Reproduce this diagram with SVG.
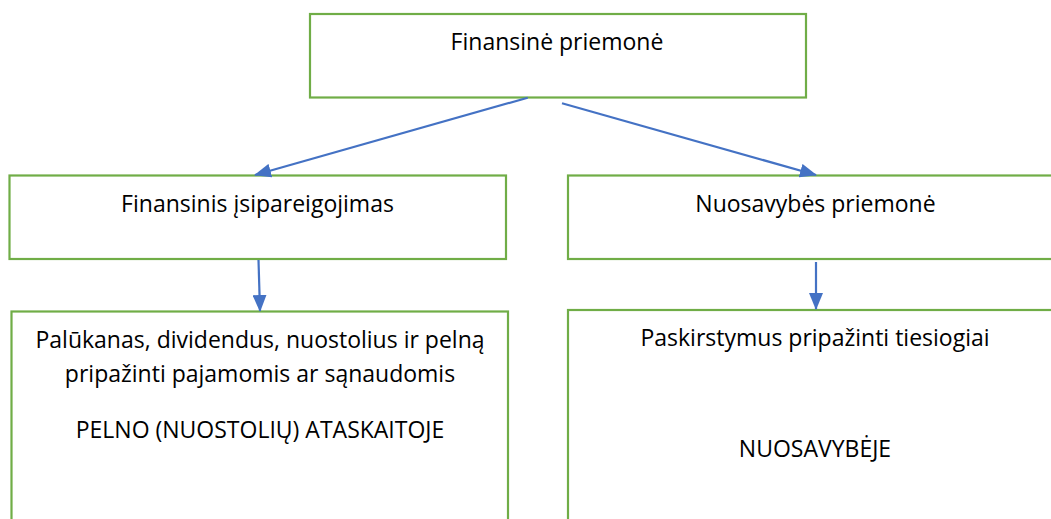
<svg xmlns="http://www.w3.org/2000/svg" width="1051" height="519" viewBox="0 0 1051 519">
  <style>
    .box { fill: #ffffff; stroke: #70AD47; stroke-width: 2.2; }
    .lbl { font-family: "Open Sans", Lato, "Liberation Sans", sans-serif; font-size: 23px; fill: #000000; text-anchor: middle; }
    .conn { stroke: #4472C4; stroke-width: 2.2; fill: none; marker-end: url(#arrow); }
  </style>
  <defs>
    <marker id="arrow" markerUnits="userSpaceOnUse" markerWidth="17" markerHeight="14" viewBox="0 0 17 14" refX="16" refY="7" orient="auto">
      <path d="M0,0 L17,7 L0,14 Z" fill="#4472C4"/>
    </marker>
  </defs>
  <rect width="1051" height="519" fill="#ffffff"/>
  <g id="node-top">
    <rect class="box" x="310" y="14" width="496" height="83.5"/>
    <text class="lbl" x="557" y="50">Finansinė priemonė</text>
  </g>
  <g id="node-liability">
    <rect class="box" x="9.5" y="175.5" width="496.5" height="83.5"/>
    <text class="lbl" x="257.5" y="211.5">Finansinis įsipareigojimas</text>
  </g>
  <g id="node-equity">
    <rect class="box" x="568" y="175.5" width="500" height="83.5"/>
    <text class="lbl" x="815.5" y="211.5">Nuosavybės priemonė</text>
  </g>
  <g id="node-pl">
    <rect class="box" x="11.5" y="311.5" width="496.5" height="230"/>
    <text class="lbl" x="260" y="348">Palūkanas, dividendus, nuostolius ir pelną</text>
    <text class="lbl" x="260" y="381.5">pripažinti pajamomis ar sąnaudomis</text>
    <text class="lbl" x="260" y="437.5">PELNO (NUOSTOLIŲ) ATASKAITOJE</text>
  </g>
  <g id="node-eq">
    <rect class="box" x="568" y="310" width="500" height="230"/>
    <text class="lbl" x="815" y="345.5">Paskirstymus pripažinti tiesiogiai</text>
    <text class="lbl" x="815" y="456.5">NUOSAVYBĖJE</text>
  </g>
  <g id="connectors">
    <line class="conn" x1="527.7" y1="97.7" x2="255" y2="175"/>
    <line class="conn" x1="562" y1="103.3" x2="816" y2="175"/>
    <line class="conn" x1="258.5" y1="260" x2="260" y2="311"/>
    <line class="conn" x1="816" y1="262" x2="816" y2="309"/>
  </g>
</svg>
